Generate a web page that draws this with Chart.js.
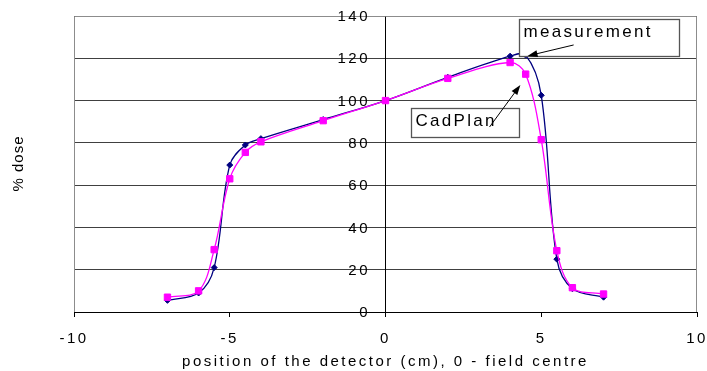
<!DOCTYPE html>
<html><head><meta charset="utf-8">
<script src="https://cdn.jsdelivr.net/npm/chart.js@4"></script>
<style>html,body{margin:0;padding:0;background:#fff;}#wrap{width:707px;height:371px;}</style>
</head><body><div id="wrap"><canvas id="c" width="707" height="371"></canvas></div>
<script>
// ---- data ----
const measurementX = [-7, -6, -5.5, -5, -4.5, -4, -2, 0, 2, 4, 4.5, 5, 5.5, 6, 7];
const measurementY = [5.5, 9, 21, 69.5, 79, 82, 91, 100, 111, 121, 121.5, 102.5, 25, 11, 7];
const cadplanX = [-7, -6, -5.5, -5, -4.5, -4, -2, 0, 2, 4, 4.5, 5, 5.5, 6, 7];
const cadplanY = [7, 10, 29.5, 63, 75.5, 80.5, 90.5, 100, 110.5, 118, 112.5, 81.5, 29, 11.5, 8.5];
const xTickValues = [-10, -5, 0, 5, 10];
const yTickValues = [0, 20, 40, 60, 80, 100, 120, 140];
const seriesNames = ['measurement', 'CadPlan'];
const xTitle = 'position of the detector (cm), 0 - field centre';
const yTitle = '% dose';

const FONT = 'Liberation Sans, Arial, sans-serif';

const spacingPlugin = {
  id: 'spacing',
  beforeUpdate(chart) { chart.ctx.letterSpacing = '2.5px'; },
  beforeDraw(chart) { chart.ctx.letterSpacing = '2.5px'; },
  beforeDatasetsDraw(chart) {
    const { ctx, chartArea: a } = chart;
    ctx.save();
    ctx.strokeStyle = '#8c8c8c';
    ctx.lineWidth = 1;
    ctx.beginPath();
    ctx.moveTo(a.left + 0.5, a.bottom);
    ctx.lineTo(a.left + 0.5, a.top + 0.5);
    ctx.lineTo(a.right - 0.5, a.top + 0.5);
    ctx.lineTo(a.right - 0.5, a.bottom);
    ctx.stroke();
    ctx.restore();
  },
  afterDraw(chart) {
    const { ctx } = chart;
    const sx = chart.scales.x, sy = chart.scales.y;
    const px = v => sx.getPixelForValue(v), py = v => sy.getPixelForValue(v);

    // y tick labels (drawn left of the centred axis)
    ctx.save();
    ctx.letterSpacing = '2.5px';
    ctx.fillStyle = '#000';
    ctx.font = '15px ' + FONT;
    ctx.textAlign = 'right';
    ctx.textBaseline = 'middle';
    const axisX = px(0);
    sy.ticks.forEach(t => {
      ctx.fillText(String(t.value), axisX - 15.5, sy.getPixelForValue(t.value) + 1);
    });
    ctx.restore();

    // y axis title
    ctx.save();
    ctx.letterSpacing = '1px';
    ctx.fillStyle = '#000';
    ctx.font = '15px ' + FONT;
    ctx.translate(19, 164);
    ctx.rotate(-Math.PI / 2);
    ctx.textAlign = 'center';
    ctx.textBaseline = 'middle';
    ctx.fillText(yTitle, 0.5, 0);
    ctx.restore();

    function box(x1, y1, x2, y2, text, baseFromTop) {
      const l = Math.round(px(x1)) + 0.5, r = Math.round(px(x2)) + 0.5;
      const t = Math.round(py(y1)) + 0.5, b = Math.round(py(y2)) + 0.5;
      ctx.save();
      ctx.fillStyle = '#fff';
      ctx.fillRect(l, t, r - l, b - t);
      ctx.strokeStyle = '#555';
      ctx.lineWidth = 1.3;
      ctx.strokeRect(l, t, r - l, b - t);
      ctx.fillStyle = '#000';
      ctx.font = '17px ' + FONT;
      ctx.letterSpacing = '2.3px';
      ctx.textAlign = 'left';
      ctx.textBaseline = 'alphabetic';
      ctx.fillText(text, l + 4, t + baseFromTop);
      ctx.restore();
    }
    function arrow(x1, y1, x2, y2) {
      const ax = px(x1), ay = py(y1), bx = px(x2), by = py(y2);
      const ang = Math.atan2(by - ay, bx - ax);
      const L = 10, W = 3.5;
      ctx.save();
      ctx.strokeStyle = '#000';
      ctx.fillStyle = '#000';
      ctx.lineWidth = 1;
      ctx.beginPath();
      ctx.moveTo(ax, ay);
      ctx.lineTo(bx - Math.cos(ang) * L * 0.8, by - Math.sin(ang) * L * 0.8);
      ctx.stroke();
      ctx.beginPath();
      ctx.moveTo(bx, by);
      ctx.lineTo(bx - Math.cos(ang) * L - Math.sin(ang) * W, by - Math.sin(ang) * L + Math.cos(ang) * W);
      ctx.lineTo(bx - Math.cos(ang) * L + Math.sin(ang) * W, by - Math.sin(ang) * L - Math.cos(ang) * W);
      ctx.closePath();
      ctx.fill();
      ctx.restore();
    }
    box(4.3, 138.6, 9.41, 121.1, seriesNames[0], 17.5);
    arrow(6.04, 126.3, 4.56, 121.1);
    box(0.83, 96.5, 4.3, 82.8, seriesNames[1], 17);
    arrow(3.34, 87.5, 4.33, 107.4);
  }
};

const tickFont = { family: FONT, size: 15 };

new Chart(document.getElementById('c'), {
  type: 'line',
  data: {
    datasets: [
      {
        label: seriesNames[0],
        data: measurementX.map((x, i) => ({ x, y: measurementY[i] })),
        borderColor: '#000080', backgroundColor: '#000080',
        pointBackgroundColor: '#000080', pointBorderColor: '#000080',
        pointStyle: 'rectRot', pointRadius: 3, pointBorderWidth: 1,
        borderWidth: 1.3, tension: 0.35, fill: false, order: 1
      },
      {
        label: seriesNames[1],
        data: cadplanX.map((x, i) => ({ x, y: cadplanY[i] })),
        borderColor: '#ff00ff', backgroundColor: '#ff00ff',
        pointBackgroundColor: '#ff00ff', pointBorderColor: '#ff00ff',
        pointStyle: 'rect', pointRadius: 4.5, pointBorderWidth: 1,
        borderWidth: 1.3, tension: 0.35, fill: false, order: 0
      }
    ]
  },
  options: {
    responsive: false,
    animation: false,
    events: [],
    layout: { padding: { left: 74, right: 10, top: 16, bottom: 0 } },
    plugins: { legend: { display: false }, tooltip: { enabled: false } },
    scales: {
      x: {
        type: 'linear', position: 'bottom', min: -10, max: 10,
        afterBuildTicks: s => { s.ticks = xTickValues.map(v => ({ value: v })); },
        afterFit: s => { s.height = 59; s.paddingLeft = 0; s.paddingRight = 0; },
        grid: { drawOnChartArea: false, drawTicks: true, tickLength: 5, color: '#000', lineWidth: 1 },
        border: { color: '#000', width: 1 },
        ticks: { color: '#000', font: tickFont, padding: 13, maxRotation: 0, autoSkip: false },
        title: { display: true, text: xTitle, color: '#000', font: tickFont, padding: { top: 0, bottom: 0 } }
      },
      y: {
        type: 'linear', position: { x: 0 }, min: 0, max: 140,
        afterBuildTicks: s => { s.ticks = yTickValues.map(v => ({ value: v })); },
        afterFit: s => { s.paddingTop = 0; s.paddingBottom = 0; },
        grid: { color: '#404040', lineWidth: 1, drawTicks: true, tickLength: 4 },
        border: { color: '#000', width: 1 },
        ticks: { display: false }
      }
    }
  },
  plugins: [spacingPlugin]
});
</script>
</body></html>
